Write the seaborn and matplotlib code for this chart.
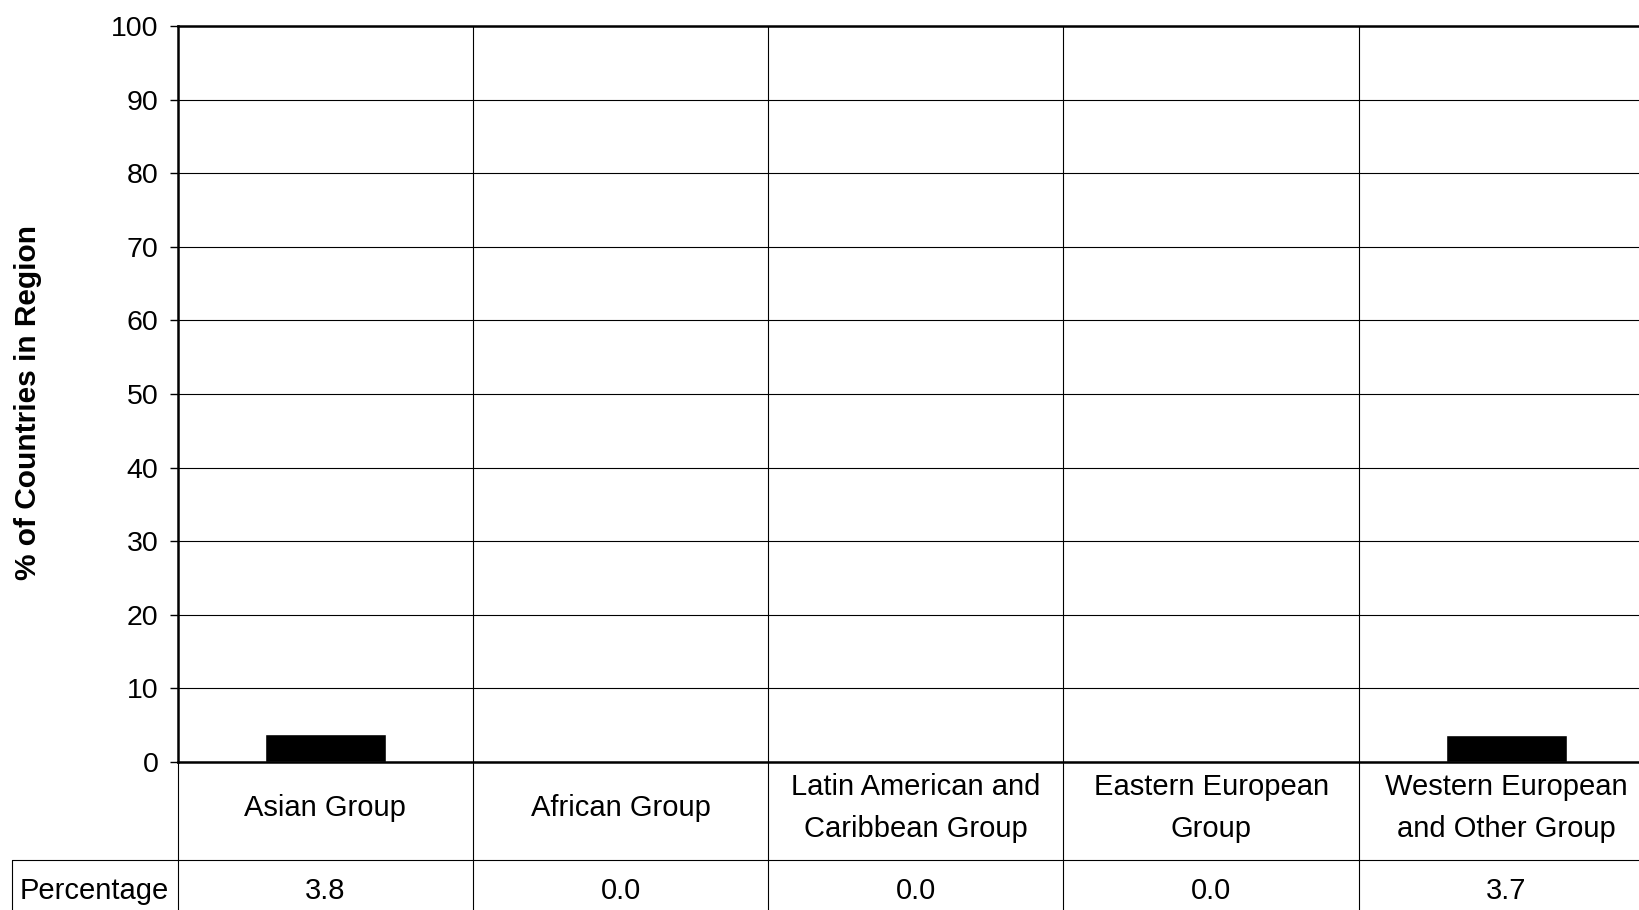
import matplotlib
matplotlib.use("Agg")
import matplotlib.pyplot as plt
import matplotlib.transforms as mtransforms
import seaborn as sns
import pandas as pd

# Share of countries in each UN regional group
categories = [
    "Asian Group",
    "African Group",
    "Latin American and\nCaribbean Group",
    "Eastern European\nGroup",
    "Western European\nand Other Group",
]
percentages = [3.8, 0.0, 0.0, 0.0, 3.7]
row_label = "Percentage"
y_ticks = list(range(0, 101, 10))

sns.set_theme(style="white")
plt.rcParams["font.family"] = ["Liberation Sans", "DejaVu Sans"]

W, H, DPI = 1639, 910, 100
fig = plt.figure(figsize=(W / DPI, H / DPI), dpi=DPI)
fig.patch.set_facecolor("white")

# axes box in pixel terms (the right-most column runs past the figure edge)
ax_left, ax_right, ax_top, ax_bottom = 177.7, 1654.0, 26.0, 762.0
ax = fig.add_axes([ax_left / W, 1 - ax_bottom / H,
                   (ax_right - ax_left) / W, (ax_bottom - ax_top) / H])
ax.set_facecolor("white")

df = pd.DataFrame({"group": categories, "pct": percentages})
sns.barplot(data=df, x="group", y="pct", color="black", width=0.41,
            saturation=1, ax=ax, zorder=3)

ax.set_xlim(-0.5, len(categories) - 0.5)
ax.set_ylim(0, 100)
ax.set_yticks(y_ticks)
ax.set_xticks([])
ax.set_xlabel("")
ax.set_ylabel("")
ax.tick_params(axis="y", which="major", length=6, width=1, color="black",
               direction="out", pad=8, labelsize=20.5, labelcolor="black", left=True)

# horizontal gridlines
ax.yaxis.grid(True, color="black", linewidth=0.8, zorder=1)
ax.set_axisbelow(True)

for side in ["left", "bottom", "top"]:
    ax.spines[side].set_visible(True)
    ax.spines[side].set_color("black")
    ax.spines[side].set_linewidth(1.8)
ax.spines["right"].set_visible(False)
ax.spines["bottom"].set_zorder(5)

# data table underneath: x follows the category axis, y in figure fraction
blend = mtransforms.blended_transform_factory(ax.transData, fig.transFigure)
row_sep = 1 - 860 / H
top_frac = 1 - ax_top / H
line_kw = dict(color="black", linewidth=0.8, clip_on=False)

for i in range(len(categories) - 1):
    xb = i + 0.5
    ax.plot([xb, xb], [0, top_frac], transform=blend, zorder=2, **line_kw)
ax.plot([-0.5, -0.5], [0, 1 - ax_bottom / H], transform=blend, **line_kw)

fig.add_artist(plt.Line2D([11.5 / W, 1], [row_sep, row_sep], transform=fig.transFigure,
                          color="black", linewidth=0.8))
fig.add_artist(plt.Line2D([11.5 / W, 11.5 / W], [0, row_sep], transform=fig.transFigure,
                          color="black", linewidth=0.8))

label_y = 1 - 808 / H
value_y = 1 - 891 / H
for i, (cat, val) in enumerate(zip(categories, percentages)):
    ax.text(i, label_y, cat, transform=blend, ha="center", va="center",
            fontsize=21, color="black", linespacing=1.62, clip_on=False)
    ax.text(i, value_y, f"{val:.1f}", transform=blend, ha="center", va="center",
            fontsize=21, color="black", clip_on=False)

fig.text(94.6 / W, value_y, row_label, ha="center", va="center",
         fontsize=21, color="black")

fig.text(28 / W, 1 - 403 / H, "% of Countries in Region", rotation=90,
         ha="center", va="center", fontsize=21.5, fontweight="bold", color="black")

fig.savefig("out.png", dpi=DPI, facecolor="white")
